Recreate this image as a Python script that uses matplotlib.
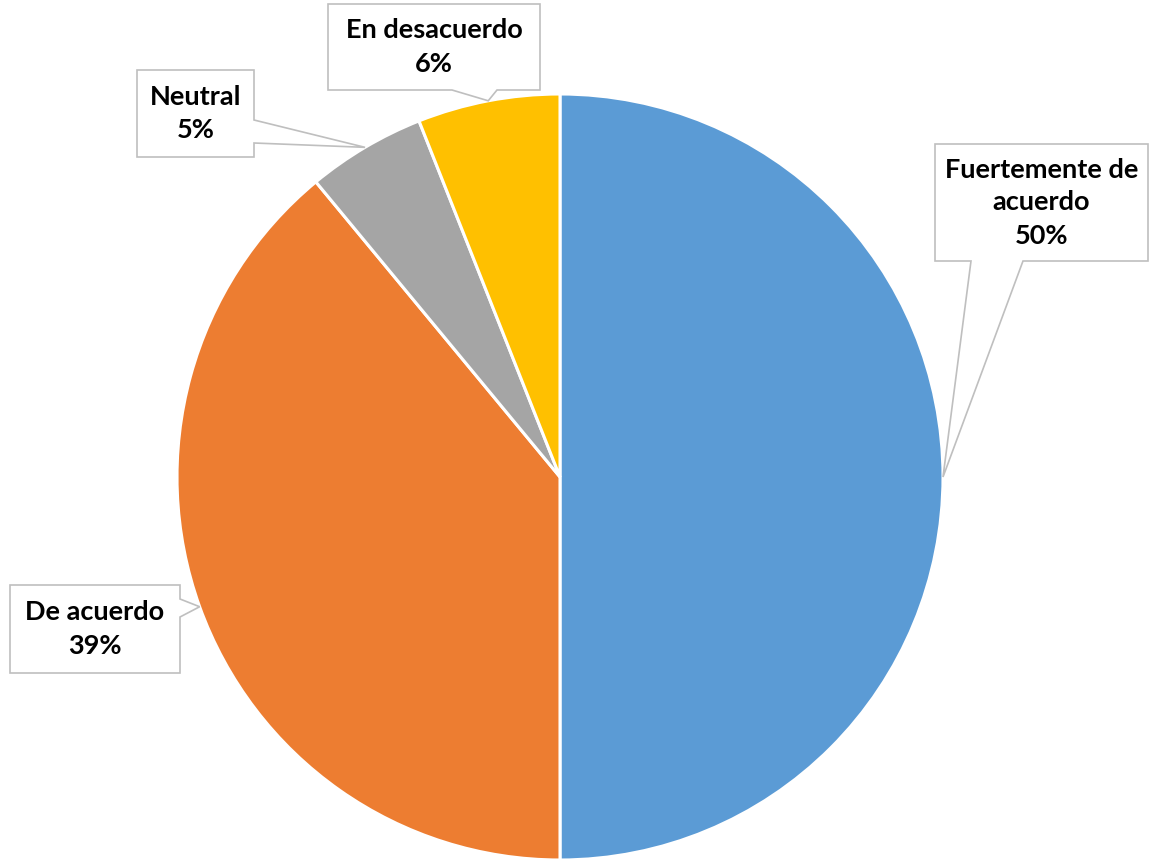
import matplotlib
matplotlib.use("Agg")
import matplotlib.pyplot as plt
from matplotlib.patches import Polygon
import numpy as np

# datos
categorias = ["Fuertemente de\nacuerdo", "De acuerdo", "Neutral", "En desacuerdo"]
porcentajes = [50, 39, 5, 6]
colores = ["#5B9BD5", "#ED7D31", "#A5A5A5", "#FFC000"]

W, H = 1153, 865
fig = plt.figure(figsize=(W / 100, H / 100), dpi=100)
ax = fig.add_axes([0, 0, 1, 1])

cx, cy, R = 560, 477, 383   # en pixeles (origen arriba-izq)


def Y(p):
    return H - p


wedges, _ = ax.pie(porcentajes, colors=colores, startangle=90, counterclock=False,
                   center=(cx, Y(cy)), radius=R,
                   wedgeprops=dict(edgecolor="white", linewidth=2.2))
ax.set_xlim(0, W)
ax.set_ylim(0, H)
ax.set_aspect("equal")
ax.axis("off")

# cajas de las etiquetas: (izq, arriba, der, abajo), lado del puntero, base del puntero
cajas = [
    ((935, 144, 1148, 261), "bottom", (971, 1023)),
    ((10, 585, 180, 673), "right", (599, 617)),
    ((137, 70, 254, 157), "right", (120, 143)),
    ((328, 4, 540, 90), "bottom", (452, 497)),
]

for w, cat, pct, (caja, lado, base) in zip(wedges, categorias, porcentajes, cajas):
    ang = np.deg2rad((w.theta1 + w.theta2) / 2)
    tip = (cx + R * np.cos(ang), Y(cy) + R * np.sin(ang))
    l, t, r, b = caja
    if lado == "right":
        pts = [(l, t), (r, t), (r, base[0]), None, (r, base[1]), (r, b), (l, b)]
    else:
        pts = [(l, t), (r, t), (r, b), (base[1], b), None, (base[0], b), (l, b)]
    verts = [tip if p is None else (p[0], Y(p[1])) for p in pts]
    ax.add_patch(Polygon(verts, closed=True, facecolor="white", edgecolor="#BFBFBF",
                         linewidth=1.2, zorder=3))
    ax.text((l + r) / 2, Y((t + b) / 2), f"{cat}\n{pct}%", ha="center", va="center",
            fontsize=19.5, fontweight="bold", family="Lato", linespacing=1.45, zorder=4)

fig.savefig("out.png", dpi=100)
